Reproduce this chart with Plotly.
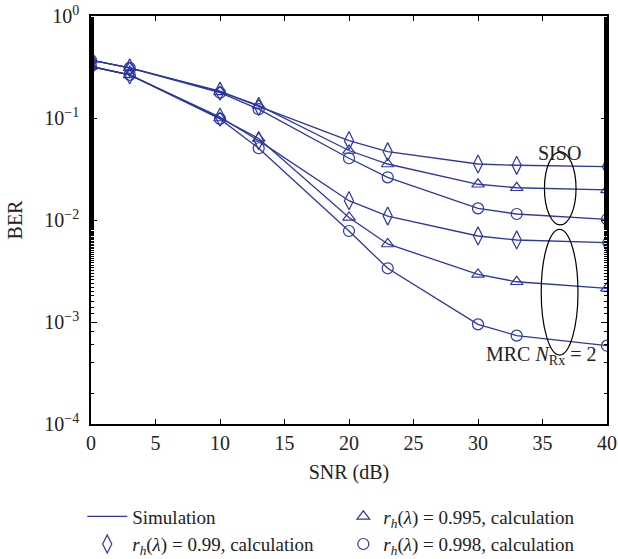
import plotly.graph_objects as go

snr = [0, 3, 10, 13, 20, 23, 30, 33, 40]

siso_099 = [0.37, 0.31, 0.183, 0.130, 0.060, 0.0467, 0.0354, 0.0344, 0.0333]
siso_0995 = [0.37, 0.31, 0.180, 0.133, 0.048, 0.0354, 0.0224, 0.0207, 0.0197]
siso_0998 = [0.37, 0.31, 0.177, 0.122, 0.0403, 0.0262, 0.0130, 0.01145, 0.01016]
mrc_099 = [0.32, 0.265, 0.102, 0.0600, 0.01546, 0.01094, 0.00697, 0.00637, 0.0060]
mrc_0995 = [0.32, 0.265, 0.100, 0.0630, 0.0106, 0.00582, 0.00293, 0.00248, 0.00214]
mrc_0998 = [0.32, 0.265, 0.098, 0.0505, 0.0078, 0.00336, 0.000948, 0.000735, 0.000586]

y_tickvals = [1e-4, 1e-3, 1e-2, 1e-1, 1]
y_ticktext = ["10<sup>−4</sup>", "10<sup>−3</sup>", "10<sup>−2</sup>", "10<sup>−1</sup>", "10<sup>0</sup>"]

C = "rgb(45,55,160)"
FONT = "Liberation Serif, Times New Roman, DejaVu Serif, serif"
TXT = "#222"
FS = 20
LFS = 19

rh = "<i>r</i><sub><i>h</i></sub>(<i>λ</i>)"
lab_sim = "Simulation"
lab_099 = rh + " = 0.99, calculation"
lab_0995 = rh + " = 0.995, calculation"
lab_0998 = rh + " = 0.998, calculation"

fig = go.Figure()

curves = [siso_099, siso_0995, siso_0998, mrc_099, mrc_0995, mrc_0998]
for i, ys in enumerate(curves):
    fig.add_trace(go.Scatter(x=snr, y=ys, mode="lines", line=dict(color=C, width=1.3),
                             name=lab_sim, legendgroup="sim", showlegend=(i == 0),
                             legend="legend", legendrank=1))

markers = [
    (siso_099, mrc_099, "diamond-tall-open", 13, lab_099, "legend", 2),
    (siso_0995, mrc_0995, "triangle-up-open", 11, lab_0995, "legend2", 1),
    (siso_0998, mrc_0998, "circle-open", 11, lab_0998, "legend2", 2),
]
for s, m, sym, sz, lab, lg, rank in markers:
    for j, ys in enumerate([s, m]):
        fig.add_trace(go.Scatter(x=snr, y=ys, mode="markers",
                                 marker=dict(symbol=sym, size=sz, color=C, line=dict(color=C, width=1.2)),
                                 name=lab, legendgroup=lab, showlegend=(j == 0), legend=lg,
                                 legendrank=rank))

# ellipses (annotation marks)
fig.add_shape(type="circle", xref="x", yref="paper", x0=35.15, x1=37.6, y0=0.488, y1=0.667,
              line=dict(color="black", width=1.2))
fig.add_shape(type="circle", xref="x", yref="paper", x0=34.9, x1=37.75, y0=0.169, y1=0.477,
              line=dict(color="black", width=1.2))

fig.add_annotation(x=36.3, y=0.695, xref="x", yref="paper", text="SISO", showarrow=False,
                   font=dict(family=FONT, size=FS, color=TXT))
fig.add_annotation(x=39.3, y=0.132, xref="x", yref="paper", text="MRC <i>N</i><sub>Rx</sub> = 2",
                   showarrow=False, xanchor="right", font=dict(family=FONT, size=FS, color=TXT))

axis_common = dict(showline=True, linecolor="black", linewidth=1.5, mirror="ticks",
                   ticks="inside", tickcolor="black", showgrid=False, zeroline=False,
                   tickfont=dict(family=FONT, size=FS, color=TXT))

fig.update_xaxes(range=[0, 40], dtick=5, ticklen=5, title=dict(text="SNR (dB)", standoff=12,
                 font=dict(family=FONT, size=FS, color=TXT)), **axis_common)
fig.update_yaxes(type="log", range=[-4, 0], tickvals=y_tickvals, ticktext=y_ticktext, ticklen=6,
                 ticklabelstandoff=6,
                 minor=dict(ticks="inside", ticklen=3, tickcolor="black", showgrid=False),
                 title=dict(text="BER", standoff=16, font=dict(family=FONT, size=FS, color=TXT)),
                 **axis_common)

leg_common = dict(orientation="v", xanchor="left", yanchor="top", y=-0.18,
                  traceorder="normal", font=dict(family=FONT, size=LFS, color=TXT),
                  tracegroupgap=0, bgcolor="rgba(0,0,0,0)")

fig.update_layout(
    width=618, height=559,
    margin=dict(l=91, r=11, t=16, b=135, autoexpand=False),
    plot_bgcolor="white", paper_bgcolor="white",
    font=dict(family=FONT, size=FS, color=TXT),
    showlegend=True,
    legend=dict(x=-0.017, itemwidth=40, **leg_common),
    legend2=dict(x=0.489, itemwidth=30, **leg_common),
)

fig.write_html("out.html")
